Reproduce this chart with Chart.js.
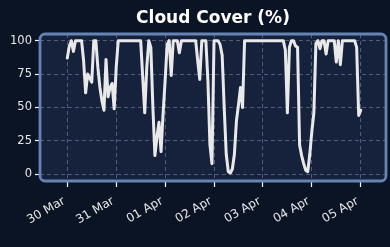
<!DOCTYPE html>
<html>
<head>
<meta charset="utf-8">
<script src="https://cdn.jsdelivr.net/npm/chart.js@4/dist/chart.umd.min.js"></script>
<style>
  html, body { margin: 0; padding: 0; background: #0b1424; }
  #wrap { width: 390px; height: 247px; }
</style>
</head>
<body>
<div id="wrap"><canvas id="c" width="390" height="247"></canvas></div>
<script>
// Hourly cloud cover (%) from 30 Mar 00:00 to 05 Apr 00:00
const cloudCover = [
  87,96,100,92,100,100,100,100,85,61,
  75,72,69,100,100,80,65,55,48,86,
  58,65,68,49,80,100,100,100,100,100,
  100,100,100,100,100,100,100,73,46,80,
  100,95,50,14,28,39,17,45,70,97,
  100,74,100,100,100,91,100,100,100,100,
  100,100,100,100,85,71,100,100,100,70,
  22,8,100,100,100,97,89,50,15,2,
  1,4,15,40,52,65,50,100,100,100,
  100,100,100,100,100,100,100,100,100,100,
  100,100,100,100,100,100,100,93,46,95,
  100,100,96,95,22,14,8,3,2,15,
  32,46,98,100,94,100,100,90,100,100,
  100,100,84,100,82,100,100,100,100,100,
  100,100,95,44,48
];
// hours since 30 Mar 00:00 at which the day ticks sit
const dayTicks = [0, 24, 48, 72, 96, 120, 144];
const dayLabels = ['30 Mar', '31 Mar', '01 Apr', '02 Apr', '03 Apr', '04 Apr', '05 Apr'];
const yTicks = [0, 25, 50, 75, 100];
const chartTitle = 'Cloud Cover (%)';

const points = cloudCover.map((v, i) => ({ x: i, y: v }));

function roundRect(ctx, x, y, w, h, r) {
  ctx.beginPath();
  ctx.moveTo(x + r, y);
  ctx.lineTo(x + w - r, y);
  ctx.arcTo(x + w, y, x + w, y + r, r);
  ctx.lineTo(x + w, y + h - r);
  ctx.arcTo(x + w, y + h, x + w - r, y + h, r);
  ctx.lineTo(x + r, y + h);
  ctx.arcTo(x, y + h, x, y + h - r, r);
  ctx.lineTo(x, y + r);
  ctx.arcTo(x, y, x + r, y, r);
  ctx.closePath();
}

const panelPlugin = {
  id: 'panel',
  beforeDraw(chart) {
    const { ctx, chartArea: a } = chart;
    ctx.save();
    ctx.fillStyle = '#0b1424';
    ctx.fillRect(0, 0, chart.width, chart.height);
    roundRect(ctx, a.left, a.top, a.right - a.left, a.bottom - a.top, 5);
    ctx.fillStyle = '#16223c';
    ctx.fill();
    ctx.restore();
  },
  afterDraw(chart) {
    const { ctx, chartArea: a } = chart;
    ctx.save();
    roundRect(ctx, a.left, a.top, a.right - a.left, a.bottom - a.top, 5);
    ctx.strokeStyle = '#6584b4';
    ctx.lineWidth = 2.8;
    ctx.stroke();
    ctx.restore();
  }
};

new Chart(document.getElementById('c'), {
  type: 'line',
  data: {
    datasets: [{
      data: points,
      borderColor: '#e9e9e9',
      borderWidth: 3,
      pointRadius: 0,
      tension: 0,
      borderJoinStyle: 'round',
      borderCapStyle: 'round',
      fill: false
    }]
  },
  options: {
    responsive: false,
    animation: false,
    layout: { padding: { left: 0, right: 4, top: 0, bottom: 0 } },
    plugins: {
      legend: { display: false },
      tooltip: { enabled: false },
      title: {
        display: true,
        text: chartTitle,
        color: '#ffffff',
        fullSize: false,
        font: { family: 'DejaVu Sans', size: 17, weight: 'bold', lineHeight: 1.2 },
        padding: { top: 8, bottom: 5.6 }
      }
    },
    scales: {
      x: {
        type: 'linear',
        min: -13.4,
        max: 156.4,
        afterBuildTicks(scale) { scale.ticks = dayTicks.map(v => ({ value: v })); },
        afterFit(scale) { scale.height = 66; },
        ticks: {
          autoSkip: false,
          maxRotation: 30,
          minRotation: 30,
          padding: 7,
          labelOffset: -3,
          color: '#e6e6e6',
          font: { family: 'DejaVu Sans', size: 12 },
          callback(value) { const i = dayTicks.indexOf(value); return i >= 0 ? dayLabels[i] : ''; }
        },
        grid: {
          color: 'rgba(150,165,195,0.45)',
          lineWidth: 1,
          tickColor: '#ffffff',
          tickLength: 6,
          tickWidth: 1.2,
          tickBorderDash: []
        },
        border: { display: false, dash: [4, 3] }
      },
      y: {
        type: 'linear',
        min: -5,
        max: 105,
        afterBuildTicks(scale) { scale.ticks = yTicks.map(v => ({ value: v })); },
        afterFit(scale) { scale.width = 40; },
        ticks: {
          padding: 3,
          color: '#e6e6e6',
          font: { family: 'DejaVu Sans', size: 11.5 }
        },
        grid: {
          color: 'rgba(150,165,195,0.45)',
          lineWidth: 1,
          tickColor: '#ffffff',
          tickLength: 5,
          tickWidth: 1.2,
          tickBorderDash: []
        },
        border: { display: false, dash: [4, 3] }
      }
    }
  },
  plugins: [panelPlugin]
});
</script>
</body>
</html>
